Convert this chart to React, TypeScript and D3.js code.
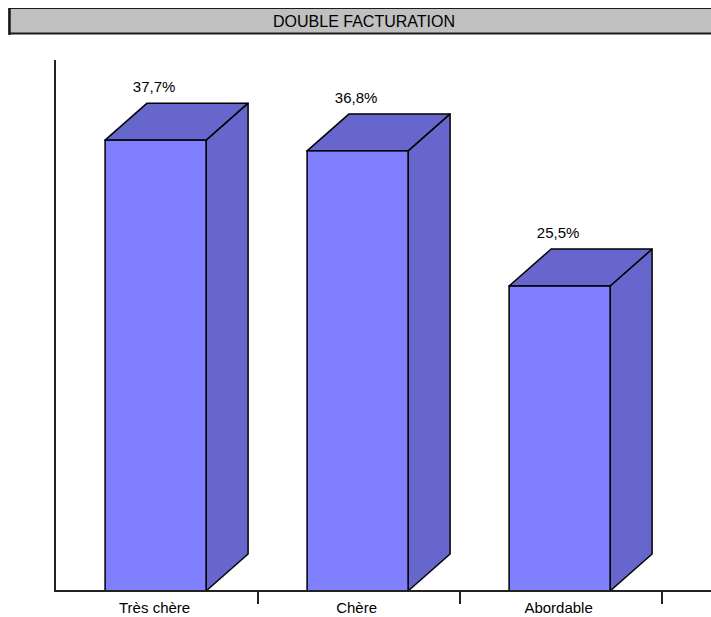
import React from "react";
import * as d3 from "d3";

const categories = ["Très chère", "Chère", "Abordable"];
const values = [37.7, 36.8, 25.5];
const valueLabels = ["37,7%", "36,8%", "25,5%"];
const title = "DOUBLE FACTURATION";

export default function App() {
  const W = 711, H = 617;
  const x0 = 56, xEnd = 662;
  const yBase = 591, yTop = 60;
  const x = d3.scaleBand<string>().domain(categories).range([x0, xEnd]).padding(0);
  const y = d3.scaleLinear().domain([0, 44.4]).range([yBase, yTop]);
  const bw = x.bandwidth();
  const barW = bw * 0.5;
  const off = bw * 0.243;
  const dx = 42, dy = 37;
  const font = "'Liberation Sans', Arial, sans-serif";
  const front = "#8080FF";
  const dark = "#6666CC";
  return (
    <svg width={W} height={H} style={{ position: "absolute", left: 0, top: 0, background: "#fff" }}>
      <rect x={0} y={0} width={W} height={H} fill="#fff" />
      {/* title box */}
      <rect x={9} y={8.5} width={720} height={25} fill="#C0C0C0" stroke="#1a1a1a" strokeWidth={1} />
      <line x1={9.5} y1={8} x2={9.5} y2={35} stroke="#1a1a1a" strokeWidth={2.5} />
      <line x1={9} y1={33.5} x2={W} y2={33.5} stroke="#1a1a1a" strokeWidth={2} />
      <text x={364} y={26.5} textAnchor="middle" fontFamily={font} fontSize={16} fill="#000">{title}</text>
      {/* bars */}
      {categories.map((c, i) => {
        const xl = (x(c) as number) + off;
        const xr = xl + barW;
        const yt = y(values[i]);
        const yb = y(0);
        const side = `M${xr},${yb} L${xr + dx},${yb - dy} L${xr + dx},${yt - dy} L${xr},${yt} Z`;
        const top = `M${xl},${yt} L${xl + dx},${yt - dy} L${xr + dx},${yt - dy} L${xr},${yt} Z`;
        return (
          <g key={c}>
            <path d={side} fill={dark} stroke="#000" strokeWidth={1.5} strokeLinejoin="round" />
            <path d={top} fill={dark} stroke="#000" strokeWidth={1.5} strokeLinejoin="round" />
            <rect x={xl} y={yt} width={barW} height={yb - yt} fill={front} stroke="#000" strokeWidth={1.5} />
            <text x={xl + barW / 2 - 1.5} y={yt - dy - 11} textAnchor="middle" fontFamily={font} fontSize={15} fill="#000">{valueLabels[i]}</text>
            <text x={xl + barW / 2 - 1} y={613} textAnchor="middle" fontFamily={font} fontSize={15} fill="#000">{c}</text>
          </g>
        );
      })}
      {/* axes */}
      <line x1={x0 - 1} y1={yTop} x2={x0 - 1} y2={yBase + 1} stroke="#222" strokeWidth={2} />
      <line x1={x0 - 2} y1={yBase} x2={W} y2={yBase} stroke="#222" strokeWidth={2} />
      {categories.map((c) => {
        const tx = (x(c) as number) + bw;
        return <line key={"t" + c} x1={tx} y1={yBase} x2={tx} y2={604} stroke="#222" strokeWidth={2} />;
      })}
    </svg>
  );
}
